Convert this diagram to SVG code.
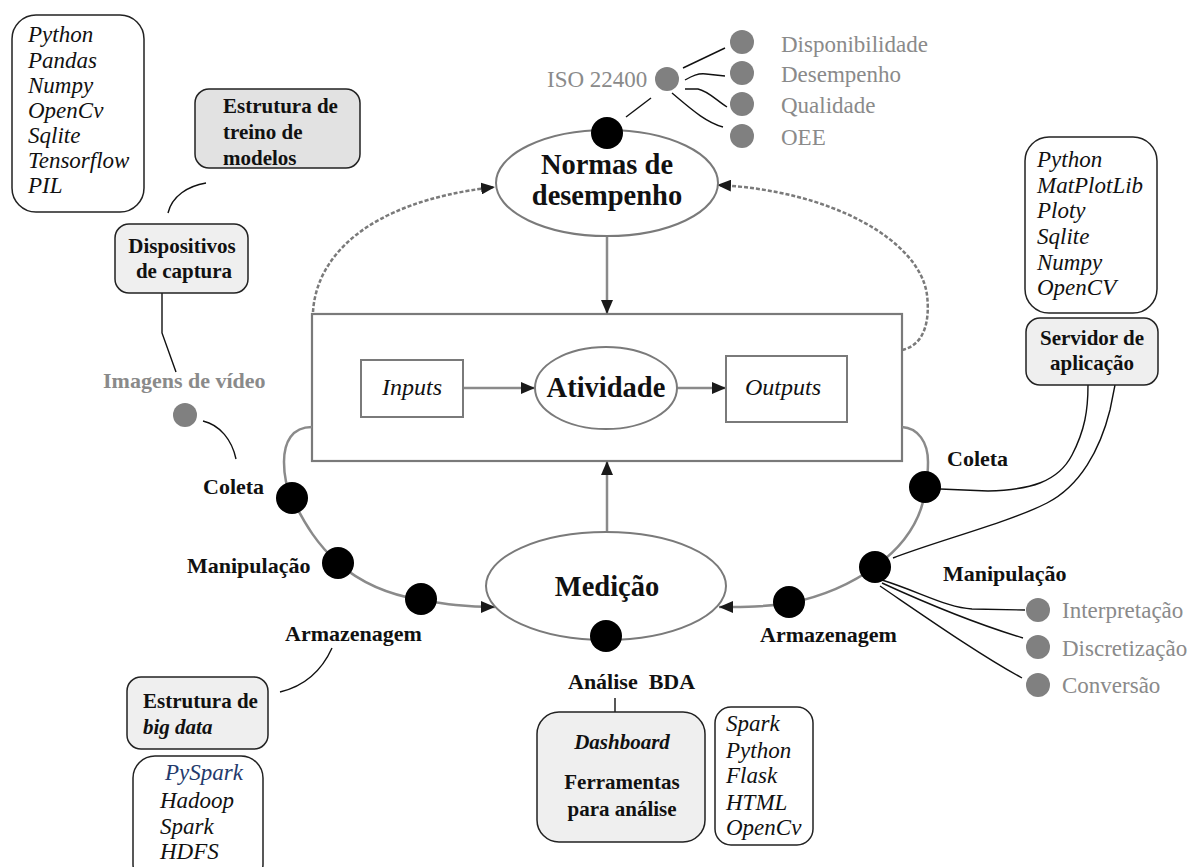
<svg xmlns="http://www.w3.org/2000/svg" width="1189" height="867" viewBox="0 0 1189 867">
  <defs>
    <marker id="arrow" viewBox="0 0 14 12" refX="14" refY="6" markerWidth="14" markerHeight="12" markerUnits="userSpaceOnUse" orient="auto">
      <path d="M0,0 L14,6 L0,12 z" fill="#1a1a1a"/>
    </marker>
    <style>
      .lbl { font-family: "Liberation Serif", serif; font-weight: bold; font-size: 22px; fill: #111; }
      .box { font-family: "Liberation Serif", serif; font-weight: bold; font-size: 21px; fill: #111; }
      .big { font-family: "Liberation Serif", serif; font-weight: bold; font-size: 28.5px; fill: #111; text-anchor: middle; }
      .gray { font-family: "Liberation Serif", serif; font-size: 23px; fill: #8a8a8a; }
      .tech { font-family: "Liberation Serif", serif; font-style: italic; font-size: 23px; fill: #111; }
      .io { font-family: "Liberation Serif", serif; font-style: italic; font-size: 24px; fill: #111; text-anchor: middle; }
      .techbox { fill: #fff; stroke: #222; stroke-width: 1.5; }
      .greybox { fill: #efefef; stroke: #222; stroke-width: 1.5; }
      .frame { fill: #fff; stroke: #7a7a7a; stroke-width: 2.2; }
      .cycle { fill: none; stroke: #8a8a8a; stroke-width: 2.5; }
      .dashed { fill: none; stroke: #7a7a7a; stroke-width: 2.5; stroke-dasharray: 4 2; }
      .link { fill: none; stroke: #111; stroke-width: 1.4; }
      .dot { fill: #000; }
      .gdot { fill: #808080; }
    </style>
  </defs>

  <!-- main frame around the activity -->
  <g id="activity-frame">
    <rect class="frame" x="312" y="314" width="590" height="147"/>
  </g>

  <!-- connectors -->
  <g id="connectors">
    <!-- feedback loops to performance standards -->
    <path class="dashed" d="M313,312 C316,260 362,202 495,187" marker-end="url(#arrow)"/>
    <path class="dashed" d="M902,350 C925,345 930,320 927,295 C920,240 830,190 717,185" marker-end="url(#arrow)"/>
    <!-- vertical flows -->
    <line class="cycle" x1="607" y1="237" x2="607" y2="314" marker-end="url(#arrow)"/>
    <line class="cycle" x1="607" y1="532" x2="607" y2="461" marker-end="url(#arrow)"/>
    <!-- inside activity -->
    <line class="cycle" x1="463" y1="388" x2="535" y2="388" stroke-width="2" marker-end="url(#arrow)"/>
    <line class="cycle" x1="677" y1="388" x2="726" y2="388" stroke-width="2" marker-end="url(#arrow)"/>
    <!-- measurement cycle -->
    <path class="cycle" d="M312,427 C292,427 284,442 284,462 C284,475 286,487 292,498 C305,525 318,545 338,563 C362,584 390,595 421,600 C445,604 465,607 495,607" marker-end="url(#arrow)"/>
    <path class="cycle" d="M902,427 C918,428 928,442 928,462 C928,472 927,480 926,487 C922,520 905,545 876,566 C850,585 820,597 790,603 C765,607 745,607 719,607" marker-end="url(#arrow)"/>

    <!-- ISO 22400 branches -->
    <path class="link" d="M626,117 L651,98"/>
    <path class="link" d="M683,68 L725,48"/>
    <path class="link" d="M685,80 C692,76 698,73 706,74 L725,76"/>
    <path class="link" d="M685,89 L698,89 C708,91 716,100 727,107"/>
    <path class="link" d="M672,93 C690,108 705,122 723,127"/>

    <!-- capture side -->
    <path class="link" d="M206,183 C188,186 172,196 168,213"/>
    <path class="link" d="M162,293 L162,333 L176,372"/>
    <path class="link" d="M203,421 C220,425 232,440 236,459"/>
    <path class="link" d="M332,648 C322,670 305,686 280,692"/>
    <path class="link" d="M615,698 L615,712"/>

    <!-- application server links -->
    <path class="link" d="M940,489 L988,491 C1030,490 1058,482 1072,455 C1085,430 1088,410 1088,385"/>
    <path class="link" d="M893,558 C940,540 1010,522 1047,503 C1080,486 1100,450 1110,410 L1115,385"/>

    <!-- manipulation branches -->
    <path class="link" d="M882,580 C920,592 948,608 972,609 L1025,610"/>
    <path class="link" d="M882,583 C930,605 980,625 1023,638"/>
    <path class="link" d="M880,586 C930,620 980,655 1022,678"/>
  </g>

  <!-- performance standards -->
  <g id="normas">
    <ellipse cx="607" cy="183" rx="111" ry="53" fill="#fff" stroke="#7a7a7a" stroke-width="2"/>
    <text class="big" x="607" y="174">Normas de</text>
    <text class="big" x="607" y="205">desempenho</text>
    <circle class="dot" cx="607" cy="133" r="16"/>
  </g>

  <g id="iso">
    <text class="gray" x="547" y="87" font-size="21">ISO 22400</text>
    <circle class="gdot" cx="667" cy="79" r="12"/>
    <circle class="gdot" cx="742" cy="42" r="12"/>
    <circle class="gdot" cx="742" cy="73" r="12"/>
    <circle class="gdot" cx="742" cy="104" r="12"/>
    <circle class="gdot" cx="742" cy="136" r="12"/>
    <text class="gray" x="781" y="52">Disponibilidade</text>
    <text class="gray" x="781" y="82">Desempenho</text>
    <text class="gray" x="781" y="113">Qualidade</text>
    <text class="gray" x="781" y="145">OEE</text>
  </g>

  <!-- activity internals -->
  <g id="inputs">
    <rect x="361" y="360" width="102" height="57" fill="#fff" stroke="#7a7a7a" stroke-width="2"/>
    <text class="io" x="412" y="395">Inputs</text>
  </g>
  <g id="atividade">
    <ellipse cx="606" cy="388" rx="71" ry="41" fill="#fff" stroke="#7a7a7a" stroke-width="2"/>
    <text class="big" x="606" y="397" font-size="26">Atividade</text>
  </g>
  <g id="outputs">
    <rect x="726" y="356" width="121" height="66" fill="#fff" stroke="#7a7a7a" stroke-width="2"/>
    <text class="io" x="783" y="395">Outputs</text>
  </g>

  <!-- measurement -->
  <g id="medicao">
    <ellipse cx="606" cy="586" rx="120" ry="54" fill="#fff" stroke="#7a7a7a" stroke-width="2"/>
    <text class="big" x="607" y="596" font-size="29">Medição</text>
    <circle class="dot" cx="606" cy="636" r="16"/>
  </g>

  <!-- cycle steps -->
  <g id="steps">
    <circle class="dot" cx="292" cy="498" r="16"/>
    <circle class="dot" cx="338" cy="563" r="16"/>
    <circle class="dot" cx="421" cy="599" r="16"/>
    <circle class="dot" cx="789" cy="602" r="16"/>
    <circle class="dot" cx="875" cy="567" r="16"/>
    <circle class="dot" cx="925" cy="487" r="16"/>
    <text class="lbl" x="203" y="494">Coleta</text>
    <text class="lbl" x="187" y="573">Manipulação</text>
    <text class="lbl" x="285" y="641">Armazenagem</text>
    <text class="lbl" x="947" y="466">Coleta</text>
    <text class="lbl" x="943" y="581">Manipulação</text>
    <text class="lbl" x="760" y="642">Armazenagem</text>
    <text class="lbl" x="568" y="689" font-size="23" xml:space="preserve">Análise  BDA</text>
  </g>

  <!-- capture devices -->
  <g id="python-stack">
    <rect class="techbox" x="12" y="15" width="132" height="197" rx="24"/>
    <text class="tech" x="28" y="42">Python</text>
    <text class="tech" x="28" y="68">Pandas</text>
    <text class="tech" x="28" y="93">Numpy</text>
    <text class="tech" x="28" y="118">OpenCv</text>
    <text class="tech" x="28" y="143">Sqlite</text>
    <text class="tech" x="28" y="168">Tensorflow</text>
    <text class="tech" x="28" y="193">PIL</text>
  </g>
  <g id="treino">
    <rect x="195" y="89" width="165" height="79" rx="14" fill="#e2e2e2" stroke="#222" stroke-width="1.5"/>
    <text class="box" x="223" y="113">Estrutura de</text>
    <text class="box" x="223" y="139">treino de</text>
    <text class="box" x="223" y="165">modelos</text>
  </g>
  <g id="dispositivos">
    <rect class="greybox" x="115" y="224" width="133" height="69" rx="14"/>
    <text class="box" x="182" y="253" text-anchor="middle" font-size="22.5">Dispositivos</text>
    <text class="box" x="184" y="278" text-anchor="middle" font-size="22.5">de captura</text>
  </g>
  <g id="imagens">
    <text class="lbl" x="103" y="388" style="fill:#8a8a8a">Imagens de vídeo</text>
    <circle class="gdot" cx="185" cy="415" r="12"/>
  </g>

  <!-- application server -->
  <g id="server-stack">
    <rect class="techbox" x="1025" y="137" width="132" height="176" rx="24"/>
    <text class="tech" x="1037" y="167">Python</text>
    <text class="tech" x="1037" y="193">MatPlotLib</text>
    <text class="tech" x="1037" y="218">Ploty</text>
    <text class="tech" x="1037" y="244">Sqlite</text>
    <text class="tech" x="1037" y="270">Numpy</text>
    <text class="tech" x="1037" y="295">OpenCV</text>
  </g>
  <g id="servidor">
    <rect class="greybox" x="1026" y="318" width="132" height="67" rx="14"/>
    <text class="box" x="1092" y="345" text-anchor="middle" font-size="21.5">Servidor de</text>
    <text class="box" x="1092" y="370" text-anchor="middle" font-size="21.5">aplicação</text>
  </g>

  <g id="manipulacao-tipos">
    <circle class="gdot" cx="1038" cy="610" r="12"/>
    <circle class="gdot" cx="1038" cy="647" r="12"/>
    <circle class="gdot" cx="1038" cy="685" r="12"/>
    <text class="gray" x="1062" y="618">Interpretação</text>
    <text class="gray" x="1062" y="656">Discretização</text>
    <text class="gray" x="1062" y="693">Conversão</text>
  </g>

  <!-- big data -->
  <g id="bigdata">
    <rect class="greybox" x="127" y="677" width="141" height="72" rx="14"/>
    <text class="box" x="143" y="708" font-size="22">Estrutura de</text>
    <text class="box" x="143" y="734" font-size="22" font-style="italic">big data</text>
  </g>
  <g id="bigdata-stack">
    <rect class="techbox" x="133" y="756" width="130" height="130" rx="22"/>
    <text class="tech" x="165" y="780" font-size="23.5" style="fill:#243a6c">PySpark</text>
    <text class="tech" x="160" y="808" font-size="23.5">Hadoop</text>
    <text class="tech" x="160" y="834" font-size="23.5">Spark</text>
    <text class="tech" x="160" y="859" font-size="23.5">HDFS</text>
  </g>

  <!-- analysis -->
  <g id="dashboard">
    <rect class="greybox" x="537" y="712" width="168" height="130" rx="22"/>
    <text class="box" x="622" y="749" text-anchor="middle" font-size="23" font-style="italic">Dashboard</text>
    <text class="box" x="622" y="789" text-anchor="middle" font-size="22.3">Ferramentas</text>
    <text class="box" x="622" y="816" text-anchor="middle" font-size="22.3">para análise</text>
  </g>
  <g id="analysis-stack">
    <rect class="techbox" x="715" y="707" width="98" height="138" rx="16"/>
    <text class="tech" x="726" y="731">Spark</text>
    <text class="tech" x="726" y="758">Python</text>
    <text class="tech" x="726" y="783">Flask</text>
    <text class="tech" x="726" y="810">HTML</text>
    <text class="tech" x="726" y="835">OpenCv</text>
  </g>
</svg>
